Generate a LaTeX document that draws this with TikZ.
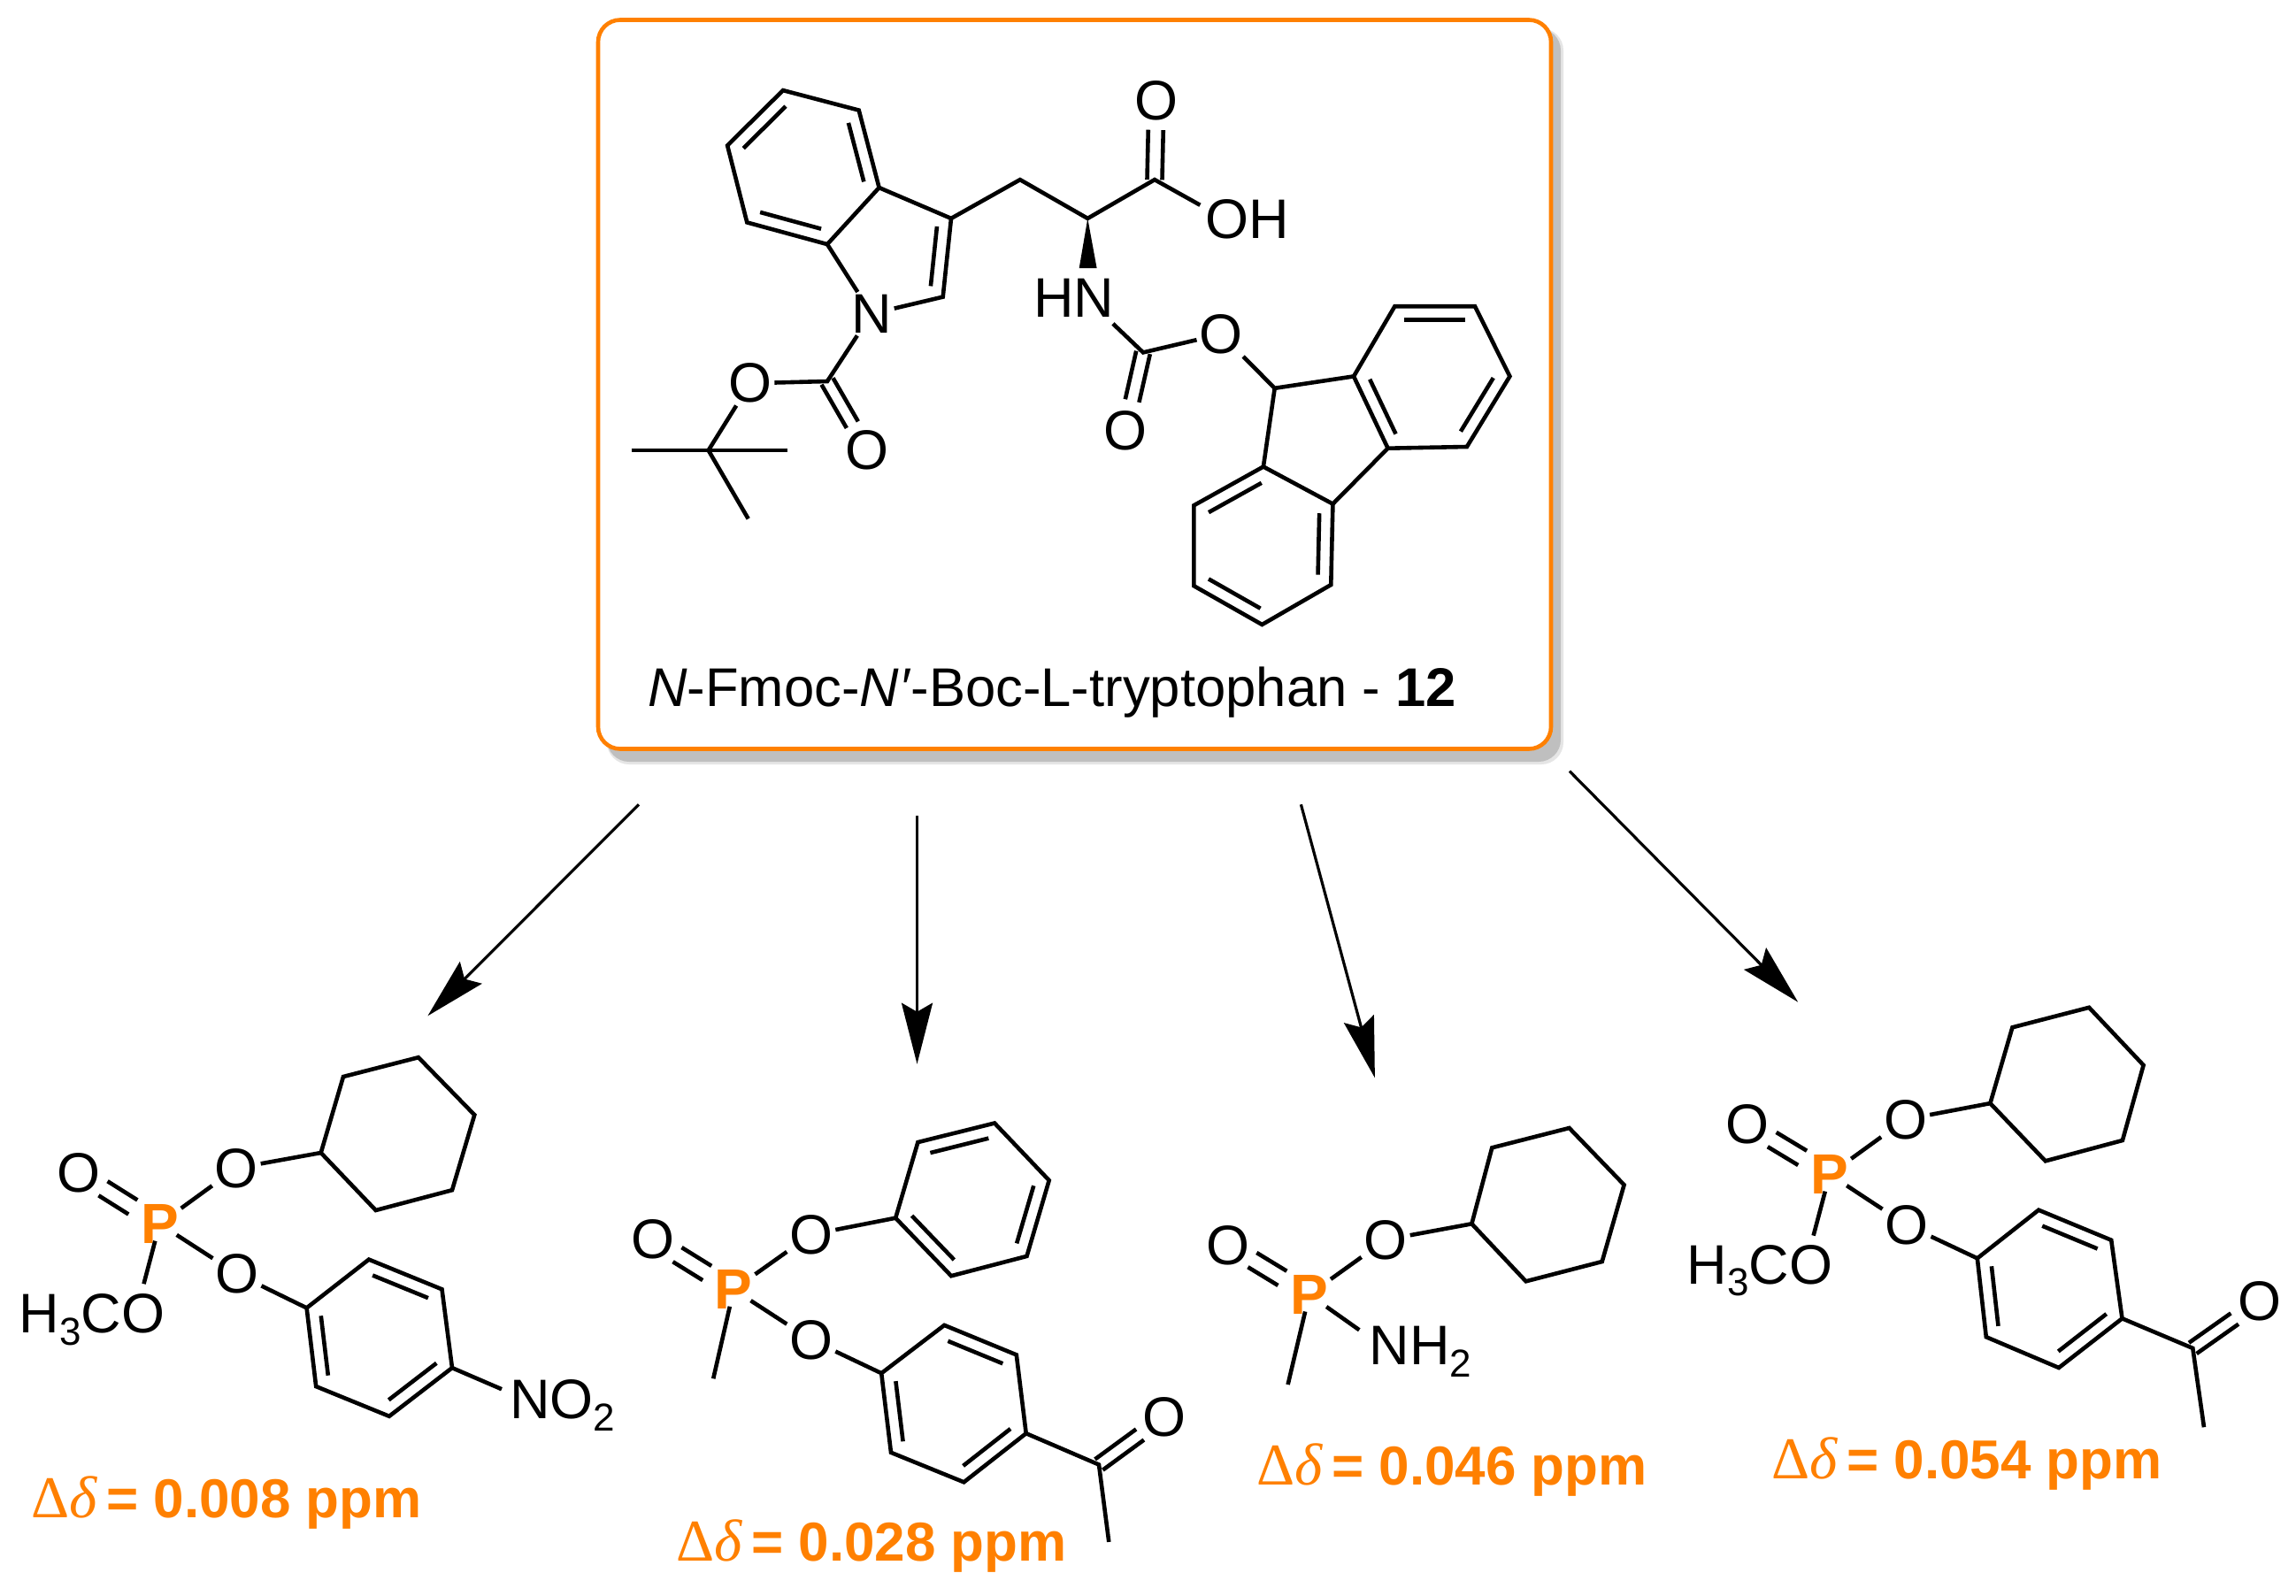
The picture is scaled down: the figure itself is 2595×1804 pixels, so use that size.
\documentclass[tikz,border=0pt]{standalone}
\usepackage[no-math]{fontspec}
\setmainfont{Liberation Sans}
\newfontfamily\symf{Liberation Serif}
\usetikzlibrary{calc,arrows.meta}
\definecolor{accent}{HTML}{FF8000}
\tikzset{
  bond/.style={line width=4.6pt,black,line join=miter,line cap=butt},
  atom/.style={inner sep=3pt,outer sep=0pt,font=\fontsize{63}{66}\selectfont,text=black},
  patom/.style={atom,font=\fontsize{64}{66}\selectfont\bfseries,text=accent},
  group/.style={inner sep=0pt,outer sep=0pt,anchor=base west,font=\fontsize{63}{66}\selectfont,text=black},
  dlab/.style={inner sep=0pt,outer sep=0pt,anchor=base west,font=\fontsize{62}{65}\selectfont\bfseries,text=accent},
  rxn/.style={line width=3.2pt,black,-{Stealth[length=69pt,width=35pt,inset=10pt]}},
}
\newcommand{\chemin}[3]{\draw[bond] ($(#1)!0.12!(#2)!#3pt!90:(#2)$) -- ($(#2)!0.12!(#1)!#3pt!-90:(#1)$);}
\newcommand{\chemdbl}[5]{%
  \draw[bond] ($(#1)!#3!(#2)!#5pt!90:(#2)$) -- ($(#2)!#4!(#1)!#5pt!-90:(#1)$);
  \draw[bond] ($(#1)!#3!(#2)!#5pt!-90:(#2)$) -- ($(#2)!#4!(#1)!#5pt!90:(#1)$);}
\newcommand{\chsub}[1]{\raisebox{-13.5pt}{\fontsize{44}{44}\selectfont #1}}
\newcommand{\dlabel}[4]{\node[dlab] (#1) at (#2,#3) {{\mdseries\symf\fontsize{67}{67}\selectfont Δ{\itshape δ}}\hspace{11pt}= #4};}
\begin{document}
\begin{tikzpicture}[x=1pt,y=-1pt]
\useasboundingbox (0,0) rectangle (2595,1804);
\fill[white] (0,0) rectangle (2595,1804);
% box with shadow
\fill[black!10,rounded corners=25pt] (686,32) rectangle (1767,864);
\fill[black!25,rounded corners=25pt] (686,32) rectangle (1764,861);
\node[draw=accent,fill=white,line width=4.6pt,rounded corners=25pt,minimum width=1077pt,minimum height=824pt,inner sep=0pt] (box) at (1214.5,434.5) {};
\node[inner sep=0pt,anchor=base west,font=\fontsize{61.6}{64}\selectfont] (title) at (732,798) {\textit{N}-Fmoc-\textit{N′}-Boc-L-tryptophan - \textbf{12}};

% molecule 12: indole
\coordinate (a) at (885,102.1); \coordinate (b) at (970.7,124.6); \coordinate (c) at (993.6,212.1);
\coordinate (d) at (935,276.1); \coordinate (e) at (844.3,251.4); \coordinate (f) at (822.1,164.4);
\coordinate (g) at (1075,246.9); \coordinate (h) at (1065.7,335.6);
\node[atom] (N1) at (985,354.7) {N};
\draw[bond] (a)--(b)--(c)--(d)--(e)--(f)--cycle;
\chemin{b}{c}{-15} \chemin{d}{e}{-15} \chemin{f}{a}{-15}
\draw[bond] (c)--(g)--(h)--(N1);
\draw[bond] (d)--(N1);
\chemin{g}{h}{-15}
% Boc
\coordinate (bocC) at (935,431);
\node[atom] (bocO) at (847.9,433.2) {O};
\node[atom] (bocOd) at (980,509) {O};
\coordinate (tbu) at (800.7,509); \coordinate (tm1) at (713.6,509); \coordinate (tm2) at (890,509); \coordinate (tm3) at (845.7,586.4);
\draw[bond] (N1)--(bocC)--(bocO)--(tbu);
\chemdbl{bocC}{bocOd}{0}{.37}{7.5}
\draw[bond] (tm1)--(tm2);
\draw[bond] (tbu)--(tm3);
% amino acid chain
\coordinate (ch2) at (1152.9,203.1); \coordinate (ca) at (1229.3,246.9); \coordinate (cooh) at (1305,203.1);
\node[atom] (acO) at (1307,113.9) {O};
\node[group] (OH) at (1362.7,269.4) {OH};
\coordinate (ohE) at (1356.4,231.8);
\draw[bond] (g)--(ch2)--(ca)--(cooh)--(ohE);
\chemdbl{cooh}{acO}{0}{.37}{8.5}
\coordinate (wl) at (1219.7,303); \coordinate (wr) at (1239.6,303);
\fill[black] (ca)--(wl)--(wr)--cycle;
\node[group] (HN) at (1168,358) {HN};
\coordinate (hnE) at (1257.9,365.9);
\coordinate (cbC) at (1292,398.4);
\node[atom] (cbO) at (1380,377.7) {O};
\node[atom] (cbOd) at (1272,486.5) {O};
\draw[bond] (hnE)--(cbC)--(cbO);
\chemdbl{cbC}{cbOd}{0}{.38}{8}
% fluorene
\coordinate (c9) at (1440.7,438.8); \coordinate (i) at (1530,425.4); \coordinate (j) at (1576.4,346.2);
\coordinate (k) at (1667,346.2); \coordinate (l) at (1706.4,425.4); \coordinate (m) at (1657.9,505);
\coordinate (n) at (1568.6,506.7); \coordinate (o) at (1506.4,569.6); \coordinate (p) at (1427.9,527.5);
\coordinate (q) at (1349.3,571.3); \coordinate (r) at (1349.3,662.2); \coordinate (s) at (1426.4,706);
\coordinate (t) at (1504.3,661);
\draw[bond] (i)--(j)--(k)--(l)--(m)--(n)--cycle;
\draw[bond] (o)--(t)--(s)--(r)--(q)--(p)--cycle;
\draw[bond] (cbO)--(c9)--(i);
\draw[bond] (c9)--(p);
\draw[bond] (n)--(o);
\chemin{j}{k}{-15} \chemin{l}{m}{-15} \chemin{n}{i}{-15}
\chemin{o}{t}{-15} \chemin{s}{r}{-15} \chemin{q}{p}{-15}

% arrows
\coordinate (a1s) at (722,909.3); \coordinate (a1e) at (483.4,1148.3);
\coordinate (a2s) at (1036.5,921.7); \coordinate (a2e) at (1036.5,1202.7);
\coordinate (a3s) at (1470.4,909.3); \coordinate (a3e) at (1553.9,1218.3);
\coordinate (a4s) at (1774,871.7); \coordinate (a4e) at (2032.2,1132.7);
\draw[rxn] (a1s)--(a1e);
\draw[rxn] (a2s)--(a2e);
\draw[rxn] (a3s)--(a3e);
\draw[rxn] (a4s)--(a4e);

% molecule 1
\node[patom] (AP) at (180.4,1383.4) {P};
\node[atom] (AOd) at (89.1,1326) {O};
\node[atom] (AO1) at (267.2,1320.3) {O};
\node[atom] (AO2) at (268,1440) {O};
\node[group] (AMeO) at (21.6,1506.7) {H\chsub{3}CO};
\coordinate (AMe) at (162.5,1451.2);
\chemdbl{AOd}{AP}{.30}{.33}{9.5}
\draw[bond] (AP)--(AO1);
\draw[bond,shorten <=-6pt] (AP)--(AO2);
\draw[bond,shorten <=-6pt] (AP)--(AMe);
\coordinate (Ac1) at (362.7,1303); \coordinate (Ac2) at (388,1217); \coordinate (Ac3) at (472.9,1195.2);
\coordinate (Ac4) at (536.3,1260.2); \coordinate (Ac5) at (511,1345.2); \coordinate (Ac6) at (424.7,1368);
\draw[bond] (Ac1)--(Ac2)--(Ac3)--(Ac4)--(Ac5)--(Ac6)--cycle;
\draw[bond] (AO1)--(Ac1);
\coordinate (Ad1) at (346.6,1478.4); \coordinate (Ad2) at (416.9,1423.6); \coordinate (Ad3) at (499.5,1457.3);
\coordinate (Ad4) at (511,1546.1); \coordinate (Ad5) at (439.9,1600.8); \coordinate (Ad6) at (357.2,1567.1);
\draw[bond] (Ad1)--(Ad2)--(Ad3)--(Ad4)--(Ad5)--(Ad6)--cycle;
\chemin{Ad2}{Ad3}{-15} \chemin{Ad4}{Ad5}{-15} \chemin{Ad6}{Ad1}{-15}
\draw[bond] (AO2)--(Ad1);
\node[group] (ANO) at (576,1603.5) {NO\chsub{2}};
\coordinate (AnE) at (567,1570.2);
\draw[bond] (Ad4)--(AnE);
\dlabel{Alab}{35}{1715.6}{0.008 ppm}

% molecule 2
\node[patom] (BP) at (829.2,1457.6) {P};
\node[atom] (BOd) at (738.2,1401.2) {O};
\node[atom] (BO1) at (916.8,1395.4) {O};
\node[atom] (BO2) at (916.8,1514.5) {O};
\coordinate (BMe) at (806.2,1558.3);
\chemdbl{BOd}{BP}{.30}{.33}{9.5}
\draw[bond] (BP)--(BO1);
\draw[bond,shorten <=-6pt] (BP)--(BO2);
\draw[bond,shorten <=-6pt] (BP)--(BMe);
\coordinate (Be1) at (1012.2,1376.7); \coordinate (Be2) at (1037.4,1291.1); \coordinate (Be3) at (1124.1,1269.5);
\coordinate (Be4) at (1185.7,1334.2); \coordinate (Be5) at (1160.5,1419.9); \coordinate (Be6) at (1075.1,1442.2);
\draw[bond] (Be1)--(Be2)--(Be3)--(Be4)--(Be5)--(Be6)--cycle;
\chemin{Be2}{Be3}{-15} \chemin{Be4}{Be5}{-15} \chemin{Be6}{Be1}{-15}
\draw[bond] (BO1)--(Be1);
\coordinate (Bf1) at (996.2,1552.2); \coordinate (Bf2) at (1067.3,1497.9); \coordinate (Bf3) at (1148.8,1531.4);
\coordinate (Bf4) at (1159.7,1620.2); \coordinate (Bf5) at (1089.4,1675.3); \coordinate (Bf6) at (1007,1641.8);
\draw[bond] (Bf1)--(Bf2)--(Bf3)--(Bf4)--(Bf5)--(Bf6)--cycle;
\chemin{Bf2}{Bf3}{-15} \chemin{Bf4}{Bf5}{-15} \chemin{Bf6}{Bf1}{-15}
\draw[bond] (BO2)--(Bf1);
\coordinate (BaC) at (1242,1655.5); \coordinate (BaM) at (1253.3,1742.9);
\node[atom] (BaO) at (1315.8,1601.5) {O};
\draw[bond] (Bf4)--(BaC)--(BaM);
\chemdbl{BaC}{BaO}{0}{.37}{7.5}
\dlabel{Blab}{764}{1764.5}{0.028 ppm}

% molecule 3
\node[patom] (CP) at (1479.7,1463.3) {P};
\node[atom] (COd) at (1387.8,1407.3) {O};
\node[atom] (CO1) at (1566.2,1401.3) {O};
\coordinate (CMe) at (1455.6,1565); \coordinate (CnE) at (1536.3,1503.3);
\node[group] (CNH) at (1547.7,1542.7) {NH\chsub{2}};
\chemdbl{COd}{CP}{.30}{.33}{9.5}
\draw[bond] (CP)--(CO1);
\draw[bond,shorten <=-6pt] (CP)--(CnE);
\draw[bond,shorten <=-6pt] (CP)--(CMe);
\coordinate (Cc1) at (1663.4,1383.3); \coordinate (Cc2) at (1686.3,1297.3); \coordinate (Cc3) at (1773.6,1275);
\coordinate (Cc4) at (1835.6,1339.3); \coordinate (Cc5) at (1810.7,1426); \coordinate (Cc6) at (1724.6,1448.3);
\draw[bond] (Cc1)--(Cc2)--(Cc3)--(Cc4)--(Cc5)--(Cc6)--cycle;
\draw[bond] (CO1)--(Cc1);
\dlabel{Clab}{1420}{1678}{0.046 ppm}

% molecule 4
\node[patom] (DP) at (2067.9,1327.4) {P};
\node[atom] (DOd) at (1974.8,1271.2) {O};
\node[atom] (DO1) at (2153.6,1265.3) {O};
\node[atom] (DO2) at (2155,1384.7) {O};
\node[group] (DMeO) at (1906.9,1451.1) {H\chsub{3}CO};
\coordinate (DMe) at (2049.6,1396.6);
\chemdbl{DOd}{DP}{.30}{.33}{9.5}
\draw[bond] (DP)--(DO1);
\draw[bond,shorten <=-6pt] (DP)--(DO2);
\draw[bond,shorten <=-6pt] (DP)--(DMe);
\coordinate (Dc1) at (2249.4,1247.1); \coordinate (Dc2) at (2274.4,1161.3); \coordinate (Dc3) at (2361.1,1138.8);
\coordinate (Dc4) at (2422.6,1204); \coordinate (Dc5) at (2398.9,1289); \coordinate (Dc6) at (2311.8,1312.3);
\draw[bond] (Dc1)--(Dc2)--(Dc3)--(Dc4)--(Dc5)--(Dc6)--cycle;
\draw[bond] (DO1)--(Dc1);
\coordinate (Dd1) at (2234.8,1422.3); \coordinate (Dd2) at (2304.1,1367.7); \coordinate (Dd3) at (2386.2,1401.7);
\coordinate (Dd4) at (2398.5,1490.3); \coordinate (Dd5) at (2326.9,1546); \coordinate (Dd6) at (2244.8,1511.2);
\draw[bond] (Dd1)--(Dd2)--(Dd3)--(Dd4)--(Dd5)--(Dd6)--cycle;
\chemin{Dd2}{Dd3}{-15} \chemin{Dd4}{Dd5}{-15} \chemin{Dd6}{Dd1}{-15}
\draw[bond] (DO2)--(Dd1);
\coordinate (DaC) at (2478.3,1523.9); \coordinate (DaM) at (2491,1613.2);
\node[atom] (DaO) at (2553.5,1470.9) {O};
\draw[bond] (Dd4)--(DaC)--(DaM);
\chemdbl{DaC}{DaO}{0}{.37}{7.5}
\dlabel{Dlab}{2002}{1671}{0.054 ppm}
\end{tikzpicture}
\end{document}
